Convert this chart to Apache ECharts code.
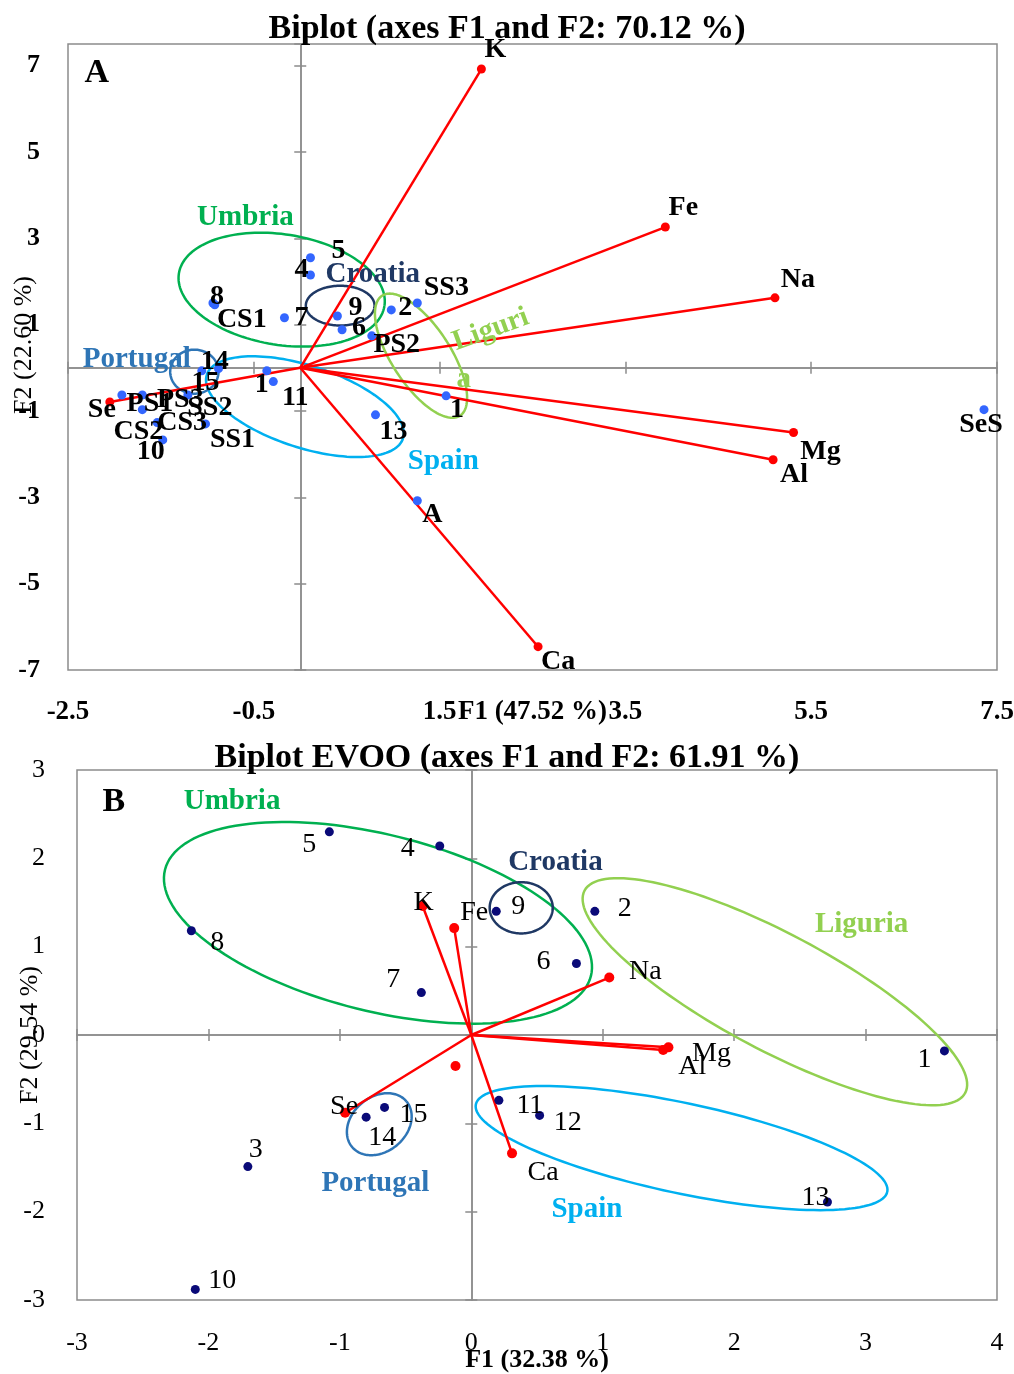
<!DOCTYPE html>
<html>
<head>
<meta charset="utf-8">
<script src="https://cdn.jsdelivr.net/npm/echarts@6/dist/echarts.min.js"></script>
<style>
  html, body { margin: 0; background: #fff; }
  #main { width: 1014px; height: 1374px; }
</style>
</head>
<body>
<div id="main"></div>
<script>
// ---------- Panel A : all samples ----------
var varNamesA = ['K', 'Fe', 'Na', 'Mg', 'Al', 'Ca', 'Se'];
var varXA = [1.95, 3.93, 5.11, 5.31, 5.09, 2.56, -2.05];
var varYA = [6.92, 3.26, 1.62, -1.50, -2.13, -6.46, -0.79];

var obsNamesA = ['5', '4', '8', 'CS1', '7', '9', '6', 'PS2', '2', 'SS3', '1', '13', 'A', 'SeS',
                 '1', '11', '14', '15', 'PS1', 'PS3', 'SS2', 'CS2', 'CS3', '10', 'SS1'];
var obsXA = [0.11, 0.11, -0.94, -0.92, -0.17, 0.40, 0.45, 0.77, 0.98, 1.26, 1.57, 0.81, 1.26, 7.36,
             -0.36, -0.29, -1.06, -0.88, -1.92, -1.70, -1.21, -1.70, -1.54, -1.48, -1.02];
var obsYA = [2.55, 2.15, 1.50, 1.46, 1.16, 1.20, 0.88, 0.74, 1.34, 1.50, -0.65, -1.09, -3.08, -0.97,
             -0.07, -0.32, -0.07, -0.02, -0.63, -0.63, -0.63, -0.97, -1.27, -1.67, -1.30];

// confidence ellipses (centre, semi-axes in axis units, tilt in degrees)
var groupsA = ['Umbria', 'Croatia', 'Liguria', 'Spain', 'Portugal'];
var ellCxA = [-0.20, 0.43, 1.30, 0.05, -1.14];
var ellCyA = [1.81, 1.44, 0.28, -0.90, -0.09];
var ellRxA = [1.12, 0.37, 0.77, 1.11, 0.26];
var ellRyA = [1.28, 0.46, 0.68, 0.95, 0.51];
var ellRotA = [-9, 0, -57, -18, 0];

var groupTextA = ['Umbria', 'Croatia', 'Liguri', 'a', 'Portugal', 'Spain'];
var groupTextXA = [-0.59, 0.78, 2.05, 1.76, -1.76, 1.54];
var groupTextYA = [3.47, 2.15, 0.88, -0.28, 0.19, -2.18];

// ---------- Panel B : EVOO ----------
var varNamesB = ['K', 'Fe', 'Na', 'Mg', 'Al', 'Ca', 'Se'];
var varXB = [-0.37, -0.13, 1.05, 1.50, 1.46, 0.31, -0.96];
var varYB = [1.46, 1.21, 0.65, -0.14, -0.17, -1.34, -0.88];
var extraXB = [-0.12];
var extraYB = [-0.35];

var obsNamesB = ['5', '4', '8', '7', '9', '2', '6', '1', '15', '14', '11', '12', '13', '3', '10'];
var obsXB = [-1.08, -0.24, -2.13, -0.38, 0.19, 0.94, 0.80, 3.60, -0.66, -0.80, 0.21, 0.52, 2.71, -1.70, -2.10];
var obsYB = [2.30, 2.14, 1.18, 0.48, 1.40, 1.40, 0.81, -0.18, -0.82, -0.93, -0.74, -0.91, -1.89, -1.49, -2.88];

var groupsB = ['Umbria', 'Croatia', 'Liguria', 'Spain', 'Portugal'];
var ellCxB = [-0.71, 0.38, 2.31, 1.60, -0.70];
var ellCyB = [1.27, 1.44, 0.49, -1.28, -1.01];
var ellRxB = [1.67, 0.24, 1.64, 1.60, 0.27];
var ellRyB = [1.00, 0.29, 0.66, 0.51, 0.31];
var ellRotB = [-14, 0, -28, -12, 40];

var groupTextB = ['Umbria', 'Croatia', 'Liguria', 'Portugal', 'Spain'];
var groupTextXB = [-1.82, 0.64, 2.97, -0.73, 0.88];
var groupTextYB = [2.64, 1.95, 1.25, -1.68, -1.98];

// ---------- label placement (pixel offsets from the point) ----------
var offVarA = [[14, -19], [18, -19], [23, -18], [27, 19], [21, 15], [20, 15], [-8, 8]];
var offObsA = [[28, -7], [-9, -5], [4, -6], [27, 15], [17, 0], [18, -8], [17, -2], [25, 9], [14, -2], [29, -15],
               [11, 14], [18, 17], [15, 14], [-3, 15], [-5, 14], [22, 16], [13, -9], [-13, 14],
               [28, 9], [38, 5], [22, 13], [-4, 22], [25, 0], [-12, 12], [27, 16]];
var offVarB = [[1, -3], [20, -15], [36, -6], [43, 6], [29, 17], [31, 19], [-1, -6]];
var offObsB = [[-20, 13], [-32, 3], [26, 12], [-28, -13], [22, -5], [30, -3], [-33, -2], [-20, 9],
               [29, 7], [16, 20], [31, 5], [28, 7], [-12, -4], [8, -17], [27, -9]];

var colorsEll = { Umbria: '#00B050', Croatia: '#1F3864', Liguria: '#92D050', Spain: '#00B0F0', Portugal: '#2E75B6' };
var colorsTextA = ['#00B050', '#1F3864', '#92D050', '#92D050', '#2E75B6', '#00B0F0'];
var colorsTextB = ['#00B050', '#1F3864', '#92D050', '#2E75B6', '#00B0F0'];

var FONT = 'Liberation Serif';
var AX = '#8C8C8C';

var myChart = echarts.init(document.getElementById('main'));

function zeroAxis(grid, min, max, interval, pos, other) {
  return {
    gridIndex: grid, type: 'value', min: min, max: max, interval: interval, position: pos,
    axisLine: { show: true, onZero: true, onZeroAxisIndex: other, lineStyle: { color: AX, width: 1.5 } },
    axisTick: { show: true, length: 6, lineStyle: { color: AX, width: 1.5 } },
    axisLabel: { show: false }, splitLine: { show: false }
  };
}

function labelAxis(grid, min, max, interval, pos, name, opts) {
  return {
    gridIndex: grid, type: 'value', min: min, max: max, interval: interval, position: pos,
    axisLine: { show: false, onZero: false }, axisTick: { show: false }, splitLine: { show: false },
    axisLabel: { margin: opts.margin, fontFamily: FONT, fontSize: opts.size, fontWeight: opts.weight,
                 color: '#000', showMaxLabel: opts.showMax },
    name: name, nameLocation: 'middle', nameGap: opts.nameGap, nameMoveOverlap: false,
    nameTextStyle: { fontFamily: FONT, fontSize: opts.size, fontWeight: opts.nameWeight, color: '#000',
                     padding: opts.namePad || 0 }
  };
}

function vectorSeries(xi, yi, xs, ys) {
  return {
    type: 'custom', xAxisIndex: xi, yAxisIndex: yi, z: 3, silent: true,
    data: xs.map(function (v, i) { return [v, ys[i]]; }),
    encode: { x: 0, y: 1 },
    renderItem: function (params, api) {
      var o = api.coord([0, 0]);
      var e = api.coord([api.value(0), api.value(1)]);
      return { type: 'line', shape: { x1: o[0], y1: o[1], x2: e[0], y2: e[1] },
               style: { stroke: '#FF0000', lineWidth: 2.5 } };
    }
  };
}

function ellipseSeries(xi, yi, names, cx, cy, rx, ry, rot) {
  return {
    type: 'custom', xAxisIndex: xi, yAxisIndex: yi, z: 2, silent: true,
    data: cx.map(function (v, i) { return [v, cy[i], rx[i], ry[i], rot[i]]; }),
    encode: { x: 0, y: 1 },
    renderItem: function (params, api) {
      var c = api.coord([api.value(0), api.value(1)]);
      var s = api.size([api.value(2), api.value(3)]);
      var th = api.value(4) * Math.PI / 180;
      var pts = [];
      for (var k = 0; k <= 144; k++) {
        var t = k / 144 * 2 * Math.PI;
        var ex = s[0] * Math.cos(t), ey = s[1] * Math.sin(t);
        pts.push([c[0] + ex * Math.cos(th) + ey * Math.sin(th), c[1] - ex * Math.sin(th) + ey * Math.cos(th)]);
      }
      return { type: 'polyline', shape: { points: pts },
               style: { stroke: colorsEll[names[params.dataIndex]], lineWidth: 2.5, fill: null } };
    }
  };
}

function pointSeries(xi, yi, names, xs, ys, offs, color, size, weight) {
  return {
    type: 'scatter', xAxisIndex: xi, yAxisIndex: yi, z: 5, symbolSize: size,
    itemStyle: { color: color, opacity: 1 },
    label: { show: true, position: 'inside', formatter: '{b}', color: '#000', textBorderWidth: 0,
             fontFamily: FONT, fontSize: 28, fontWeight: weight },
    data: names.map(function (n, i) {
      return { name: n, value: [xs[i], ys[i]], label: { offset: offs[i] } };
    })
  };
}

function textSeries(xi, yi, texts, xs, ys, colors, rotates, size) {
  return {
    type: 'scatter', xAxisIndex: xi, yAxisIndex: yi, z: 6, symbolSize: 0, silent: true,
    itemStyle: { color: 'rgba(0,0,0,0)', opacity: 1 },
    label: { show: true, position: 'inside', formatter: '{b}', fontFamily: FONT, textBorderWidth: 0,
             fontSize: size, fontWeight: 'bold', opacity: 1 },
    data: texts.map(function (t, i) {
      return { name: t, value: [xs[i], ys[i]],
               label: { color: colors[i], rotate: rotates ? rotates[i] : 0 } };
    })
  };
}

var option = {
  animation: false,
  backgroundColor: '#fff',
  title: [
    { text: 'Biplot (axes F1 and F2: 70.12 %)', left: 'center', top: 7,
      textStyle: { fontFamily: FONT, fontSize: 34, fontWeight: 'bold', color: '#000' } },
    { text: 'Biplot EVOO (axes F1 and F2: 61.91 %)', left: 'center', top: 736,
      textStyle: { fontFamily: FONT, fontSize: 34, fontWeight: 'bold', color: '#000' } }
  ],
  grid: [
    { left: 68, top: 44, width: 929, height: 626, show: true, borderColor: AX, borderWidth: 1.5,
      outerBoundsMode: 'none', containLabel: false },
    { left: 77, top: 770, width: 920, height: 530, show: true, borderColor: AX, borderWidth: 1.5,
      outerBoundsMode: 'none', containLabel: false }
  ],
  xAxis: [
    labelAxis(0, -2.5, 7.5, 2, 'bottom', 'F1 (47.52 %)',
      { margin: 29, size: 27, weight: 'bold', nameWeight: 'bold', nameGap: 29, showMax: true }),
    zeroAxis(0, -2.5, 7.5, 2, 'bottom', 0),
    zeroAxis(0, -2.5, 7.5, 2, 'top', 0),
    labelAxis(1, -3, 4, 1, 'bottom', 'F1 (32.38 %)',
      { margin: 30, size: 26, weight: 'normal', nameWeight: 'bold', nameGap: 47, showMax: true }),
    zeroAxis(1, -3, 4, 1, 'bottom', 3),
    zeroAxis(1, -3, 4, 1, 'top', 3)
  ],
  yAxis: [
    labelAxis(0, -7, 7.5, 2, 'left', 'F2 (22.60 %)',
      { margin: 28, size: 26, weight: 'bold', nameWeight: 'normal', nameGap: 31, showMax: false, namePad: [0, 0, 0, 24] }),
    zeroAxis(0, -7, 7.5, 2, 'left', 0),
    zeroAxis(0, -7, 7.5, 2, 'right', 0),
    labelAxis(1, -3, 3, 1, 'left', 'F2 (29.54 %)',
      { margin: 32, size: 26, weight: 'normal', nameWeight: 'normal', nameGap: 34, showMax: true }),
    zeroAxis(1, -3, 3, 1, 'left', 3),
    zeroAxis(1, -3, 3, 1, 'right', 3)
  ],
  series: [
    // panel A
    ellipseSeries(0, 0, groupsA, ellCxA, ellCyA, ellRxA, ellRyA, ellRotA),
    vectorSeries(0, 0, varXA, varYA),
    pointSeries(0, 0, varNamesA, varXA, varYA, offVarA, '#FF0000', 9, 'bold'),
    pointSeries(0, 0, obsNamesA, obsXA, obsYA, offObsA, '#3366FF', 9, 'bold'),
    textSeries(0, 0, groupTextA, groupTextXA, groupTextYA, colorsTextA, [0, 0, 20, 0, 0, 0], 29),
    textSeries(0, 0, ['A'], [-2.19], [6.83], ['#000'], null, 34),
    // panel B
    ellipseSeries(3, 3, groupsB, ellCxB, ellCyB, ellRxB, ellRyB, ellRotB),
    vectorSeries(3, 3, varXB, varYB),
    pointSeries(3, 3, varNamesB, varXB, varYB, offVarB, '#FF0000', 10, 'normal'),
    pointSeries(3, 3, extraXB.map(function () { return ''; }), extraXB, extraYB, [[0, 0]], '#FF0000', 10, 'normal'),
    pointSeries(3, 3, obsNamesB, obsXB, obsYB, offObsB, '#0A0A78', 9, 'normal'),
    textSeries(3, 3, groupTextB, groupTextXB, groupTextYB, colorsTextB, null, 29),
    textSeries(3, 3, ['B'], [-2.72], [2.63], ['#000'], null, 34)
  ]
};

myChart.setOption(option);
</script>
</body>
</html>
